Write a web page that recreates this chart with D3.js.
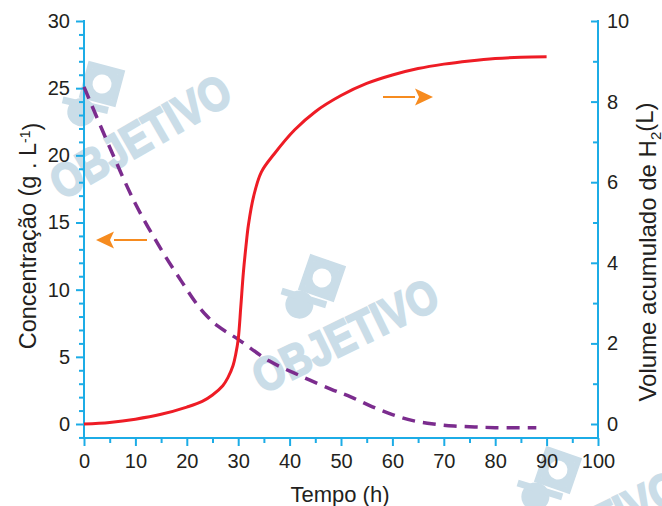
<!DOCTYPE html>
<html lang="pt">
<head>
    <meta charset="UTF-8">
    <title>Concentração e volume de H2</title>
    <script src="https://cdn.jsdelivr.net/npm/d3@7/dist/d3.min.js"></script>
    <style>
        body { margin: 0; background: #fff; }
        svg text { font-family: "Liberation Sans", Arial, Helvetica, sans-serif; fill: #231f20; }
        .axis path.domain { display: none; }
        .axis line { stroke: #1cace6; stroke-width: 2; }
        .axis text { font-size: 20px; }
    </style>
</head>
<body>
<script>
    // tempo (h) e volume acumulado de H2 (L) - eixo direito
    var tempoH2 = [0, 5, 10, 15, 20, 23, 25, 27, 28, 29, 29.5, 30, 30.5, 31, 31.5, 32, 33, 34.5, 37, 41, 45, 50, 55, 60, 65, 70, 75, 80, 85, 90];
    var volumeH2 = [0, 0.04, 0.12, 0.24, 0.42, 0.56, 0.72, 0.95, 1.15, 1.45, 1.72, 2.1, 2.9, 3.75, 4.4, 4.95, 5.65, 6.25, 6.7, 7.3, 7.75, 8.15, 8.45, 8.66, 8.82, 8.93, 9.01, 9.07, 9.1, 9.11];

    // tempo (h) e concentracao (g/L) - eixo esquerdo
    var tempoConc = [0, 5, 10, 15, 19, 22, 24, 26, 30, 36, 42, 48, 52, 56, 60, 64, 68, 72, 76, 80, 88];
    var concentracao = [25.1, 20.6, 16.4, 13.0, 10.6, 8.9, 8.0, 7.3, 6.3, 4.7, 3.6, 2.6, 2.0, 1.3, 0.7, 0.25, 0.0, -0.15, -0.22, -0.27, -0.28];

    // ticks
    var xTicks = [0, 10, 20, 30, 40, 50, 60, 70, 80, 90, 100];
    var leftTicks = [0, 5, 10, 15, 20, 25, 30];
    var rightTicks = [0, 2, 4, 6, 8, 10];

    var w = 662, h = 506;
    var plotLeft = 84, plotRight = 598, plotTop = 21, zeroY = 424, xAxisY = 438;

    var svg = d3.select('body').append('svg')
        .attr('width', w)
        .attr('height', h);

    //watermarks (logo OBJETIVO)
    var wmColor = '#cadde8';
    function watermark(rx, ry, tx, ty, ang) {
        var logo = svg.append('g')
            .attr('transform', 'translate(' + rx + ',' + ry + ') rotate(' + ang + ')');
        logo.append('circle').attr('cx', -32).attr('cy', 14).attr('r', 14).attr('fill', wmColor);
        logo.append('line').attr('x1', -42).attr('y1', -6).attr('x2', -8).attr('y2', 26)
            .attr('stroke', wmColor).attr('stroke-width', 7);
        logo.append('rect').attr('x', -16).attr('y', -16).attr('width', 32).attr('height', 32)
            .attr('transform', 'rotate(45)')
            .attr('fill', 'none').attr('stroke', wmColor).attr('stroke-width', 6);
        logo.append('circle').attr('cx', 0).attr('cy', 0).attr('r', 14)
            .attr('fill', '#fff').attr('stroke', wmColor).attr('stroke-width', 9);
        svg.append('text')
            .attr('transform', 'translate(' + tx + ',' + ty + ') rotate(' + ang + ') scale(0.92,1.1)')
            .attr('text-anchor', 'middle')
            .attr('dy', '0.36em')
            .style('font-size', '43px')
            .style('font-weight', 'bold')
            .style('fill', wmColor)
            .style('stroke', wmColor)
            .style('stroke-width', 2)
            .text('OBJETIVO');
    }
    watermark(102, 84, 140, 136, -30);
    watermark(322, 278, 345, 335, -26);
    watermark(558, 470, 588, 527, -26);

    //scales
    var xScale = d3.scaleLinear().domain([0, 100]).range([plotLeft, plotRight]);
    var yLeft = d3.scaleLinear().domain([0, 30]).range([zeroY, plotTop]);
    var yRight = d3.scaleLinear().domain([0, 10]).range([zeroY, plotTop]);

    //x axis
    var xg = svg.append('g').attr('class', 'axis')
        .attr('transform', 'translate(0,' + xAxisY + ')');
    xg.call(d3.axisBottom(xScale).tickValues(d3.range(5, 100, 10)).tickSize(5).tickFormat(''));
    xg.append('g').call(d3.axisBottom(xScale).tickValues(xTicks).tickSize(8).tickPadding(8));

    //left axis
    var lg = svg.append('g').attr('class', 'axis')
        .attr('transform', 'translate(' + plotLeft + ',0)');
    lg.call(d3.axisLeft(yLeft).tickValues(d3.range(-1, 31).filter(function(d) { return d % 5 !== 0; }))
        .tickSize(5).tickFormat(''));
    lg.append('g').call(d3.axisLeft(yLeft).tickValues(leftTicks).tickSize(8).tickPadding(6));

    //right axis (ticks inward)
    var rg = svg.append('g').attr('class', 'axis')
        .attr('transform', 'translate(' + plotRight + ',0)');
    rg.call(d3.axisRight(yRight).tickValues([1, 3, 5, 7, 9]).tickSizeInner(-5).tickFormat(''));
    rg.append('g').call(d3.axisRight(yRight).tickValues(rightTicks).tickSizeInner(-7).tickPadding(9));

    //axis lines
    var axisLines = [[plotLeft, plotTop, plotLeft, xAxisY], [plotRight, plotTop, plotRight, xAxisY], [plotLeft, xAxisY, plotRight, xAxisY]];
    svg.selectAll('line.frame')
        .data(axisLines)
        .enter()
        .append('line')
        .attr('class', 'frame')
        .attr('x1', function(d) { return d[0]; })
        .attr('y1', function(d) { return d[1]; })
        .attr('x2', function(d) { return d[2]; })
        .attr('y2', function(d) { return d[3]; })
        .attr('stroke', '#1cace6')
        .attr('stroke-width', 2)
        .attr('stroke-linecap', 'square');

    //concentration (dashed)
    var concLine = d3.line()
        .x(function(d, i) { return xScale(tempoConc[i]); })
        .y(function(d) { return yLeft(d); })
        .curve(d3.curveCatmullRom.alpha(0.5));
    svg.append('path')
        .attr('d', concLine(concentracao))
        .attr('fill', 'none')
        .attr('stroke', '#7b2c8e')
        .attr('stroke-width', 3.5)
        .attr('stroke-dasharray', '13,8');

    //H2 volume
    var h2Line = d3.line()
        .x(function(d, i) { return xScale(tempoH2[i]); })
        .y(function(d) { return yRight(d); })
        .curve(d3.curveCatmullRom.alpha(0.5));
    svg.append('path')
        .attr('d', h2Line(volumeH2))
        .attr('fill', 'none')
        .attr('stroke', '#ee1c25')
        .attr('stroke-width', 3);

    //arrows
    var orange = '#f68b1f';
    function arrow(x1, x2, y) {
        var dir = x2 > x1 ? 1 : -1;
        var baseX = x2 - dir * 18;
        svg.append('line')
            .attr('x1', x1).attr('y1', y).attr('x2', baseX).attr('y2', y)
            .attr('stroke', orange).attr('stroke-width', 2);
        svg.append('path')
            .attr('d', 'M' + x2 + ',' + y + 'L' + baseX + ',' + (y - 8.5) + 'L' + (baseX + dir * 4) + ',' + y + 'L' + baseX + ',' + (y + 8.5) + 'Z')
            .attr('fill', orange);
    }
    arrow(147, 96, 240);
    arrow(383, 433, 97);

    //axis titles
    var yt = svg.append('text')
        .attr('transform', 'translate(36,236) rotate(-90)')
        .attr('text-anchor', 'middle')
        .style('font-size', '23.5px');
    yt.append('tspan').text('Concentração (g . L');
    yt.append('tspan').attr('dy', '-0.45em').style('font-size', '14px').text('-1');
    yt.append('tspan').attr('dy', '0.45em').text(')');

    var yr = svg.append('text')
        .attr('transform', 'translate(656,252) rotate(-90)')
        .attr('text-anchor', 'middle')
        .style('font-size', '24px');
    yr.append('tspan').text('Volume acumulado de H');
    yr.append('tspan').attr('dy', '0.3em').style('font-size', '15px').text('2');
    yr.append('tspan').attr('dy', '-0.3em').text('(L)');

    svg.append('text')
        .attr('x', 340)
        .attr('y', 502)
        .attr('text-anchor', 'middle')
        .style('font-size', '22px')
        .text('Tempo (h)');
</script>
</body>
</html>
